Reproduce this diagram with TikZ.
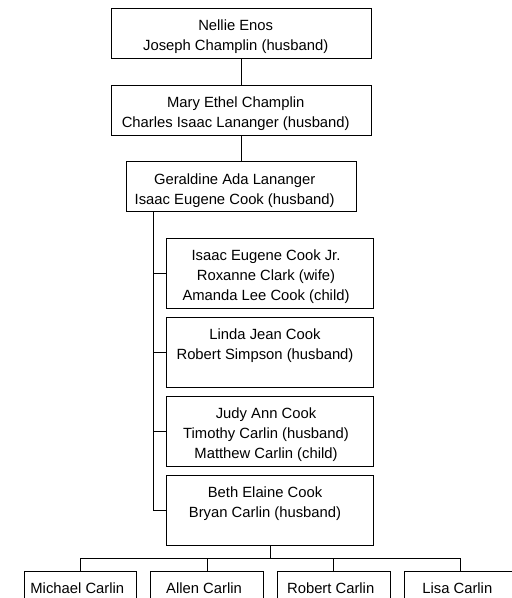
\documentclass[tikz,border=0pt]{standalone}
\usepackage{fontspec}
\setmainfont{Liberation Sans}
\begin{document}
\begin{tikzpicture}[x=1pt,y=-1pt,
  box/.style={draw=black, line width=0.9pt, rectangle, inner sep=0pt},
  wide/.style={box, minimum width=260pt, minimum height=50pt},
  mid/.style={box, minimum width=230pt, minimum height=50pt},
  fam/.style={box, minimum width=206.7pt, minimum height=70pt},
  kid/.style={box, minimum width=112.7pt, minimum height=30pt},
  txt/.style={inner sep=0pt, anchor=north, align=center, font=\fontsize{14.8}{20}\selectfont},
  link/.style={draw=black, line width=0.9pt}]
\useasboundingbox (0,0) rectangle (512,598);
% boxes
\node[wide] (b1) at (241.7,33.3) {};
\node[wide] (b2) at (241.7,110) {};
\node[mid]  (b3) at (241.7,186.7) {};
\node[fam]  (b4) at (270,273.3) {};
\node[fam]  (b5) at (270,352.3) {};
\node[fam]  (b6) at (270,431.3) {};
\node[fam]  (b7) at (270,510.3) {};
\node[kid]  (k1) at (80.3,586) {};
\node[kid]  (k2) at (207,586) {};
\node[kid]  (k3) at (333.7,586) {};
\node[kid]  (k4) at (460.3,586) {};
% texts
\node[txt] (t1) at ([xshift=-6pt,yshift=-12pt]b1.north) {Nellie Enos\\Joseph Champlin (husband)};
\node[txt] (t2) at ([xshift=-6pt,yshift=-12pt]b2.north) {Mary Ethel Champlin\\Charles Isaac Lananger (husband)};
\node[txt] (t3) at ([xshift=-7pt,yshift=-12pt]b3.north) {Geraldine Ada Lananger\\Isaac Eugene Cook (husband)};
\node[txt] (t4) at ([xshift=-4pt,yshift=-11.5pt]b4.north) {Isaac Eugene Cook Jr.\\Roxanne Clark (wife)\\Amanda Lee Cook (child)};
\node[txt] (t5) at ([xshift=-5pt,yshift=-12pt]b5.north) {Linda Jean Cook\\Robert Simpson (husband)};
\node[txt] (t6) at ([xshift=-4pt,yshift=-12pt]b6.north) {Judy Ann Cook\\Timothy Carlin (husband)\\Matthew Carlin (child)};
\node[txt] (t7) at ([xshift=-5pt,yshift=-12pt]b7.north) {Beth Elaine Cook\\Bryan Carlin (husband)};
\node[txt] (u1) at ([xshift=-3pt,yshift=-12pt]k1.north) {Michael Carlin};
\node[txt] (u2) at ([xshift=-3pt,yshift=-12pt]k2.north) {Allen Carlin};
\node[txt] (u3) at ([xshift=-3pt,yshift=-12pt]k3.north) {Robert Carlin};
\node[txt] (u4) at ([xshift=-3pt,yshift=-12pt]k4.north) {Lisa Carlin};
% connectors
\draw[link] (b1.south) -- (b2.north);
\draw[link] (b2.south) -- (b3.north);
\coordinate (tr) at (153.5,211.7);
\draw[link] (tr) |- (b4.west);
\draw[link] (tr) |- (b5.west);
\draw[link] (tr) |- (b6.west);
\draw[link] (tr) |- (b7.west);
\coordinate (bar) at (270,558.3);
\draw[link] (b7.south) -- (bar);
\draw[link] (k1.north) |- (bar);
\draw[link] (k2.north) |- (bar);
\draw[link] (k3.north) |- (bar);
\draw[link] (k4.north) |- (bar);
\end{tikzpicture}
\end{document}
